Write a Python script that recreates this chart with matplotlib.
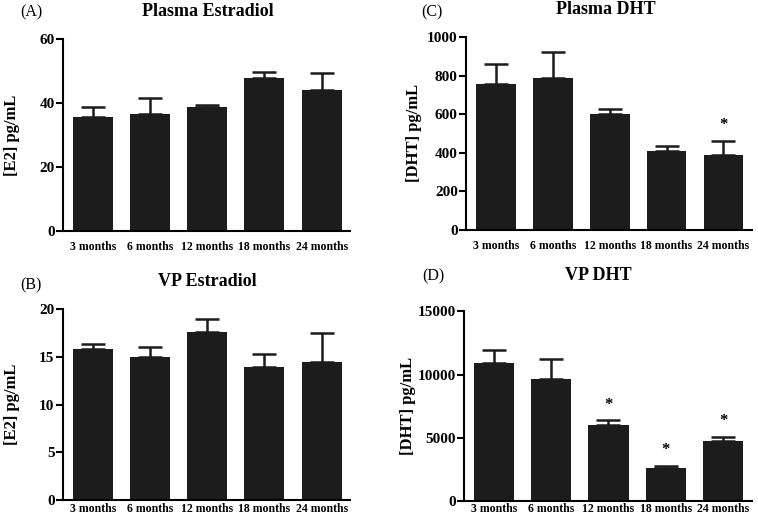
import numpy as np
import matplotlib.pyplot as plt

plt.rcParams['font.family'] = ['Liberation Serif', 'DejaVu Serif']

months = ['3 months', '6 months', '12 months', '18 months', '24 months']

# (A) Plasma Estradiol
e2_plasma = [35.7, 36.7, 38.7, 47.8, 44.2]
e2_plasma_err = [3.0, 5.0, 0.6, 1.8, 5.2]
# (B) VP Estradiol
e2_vp = [15.85, 14.95, 17.6, 13.95, 14.5]
e2_vp_err = [0.45, 1.1, 1.3, 1.35, 2.95]
# (C) Plasma DHT
dht_plasma = [758, 785, 600, 410, 389]
dht_plasma_err = [104, 135, 26, 26, 71]
dht_plasma_sig = [False, False, False, False, True]
# (D) VP DHT
dht_vp = [10900, 9680, 6000, 2570, 4740]
dht_vp_err = [1030, 1540, 370, 180, 320]
dht_vp_sig = [False, False, True, True, True]

W, H = 758, 520
fig = plt.figure(figsize=(W / 100, H / 100), dpi=100)

panels = [
    # rect, letter pos, title pos, xpad, ylabel offset px, letter, title, ylabel, values, errs, sig, ymax, yticks
    ([0.083, 0.556, 0.379, 0.369], (31, 12), (208, 12), 7, 51, '(A)', 'Plasma Estradiol', '[E2] pg/mL',
     e2_plasma, e2_plasma_err, None, 60, [0, 20, 40, 60]),
    ([0.083, 0.038, 0.379, 0.368], (31, 285), (207, 281), 2, 51, '(B)', 'VP Estradiol', '[E2] pg/mL',
     e2_vp, e2_vp_err, None, 20, [0, 5, 10, 15, 20]),
    ([0.615, 0.558, 0.377, 0.371], (432, 12), (606, 10), 7, 52, '(C)', 'Plasma DHT', '[DHT] pg/mL',
     dht_plasma, dht_plasma_err, dht_plasma_sig, 1000, [0, 200, 400, 600, 800, 1000]),
    ([0.612, 0.037, 0.380, 0.364], (433, 276), (598, 275), 1.5, 56, '(D)', 'VP DHT', '[DHT] pg/mL',
     dht_vp, dht_vp_err, dht_vp_sig, 15000, [0, 5000, 10000, 15000]),
]

for rect, lpos, tpos, xpad, yoff, letter, title, ylabel, vals, errs, sig, ymax, yticks in panels:
    ax = fig.add_axes(rect)
    x = np.arange(len(months))
    ax.bar(x, vals, width=0.7, color='#1c1c1c', zorder=2)
    ax.errorbar(x, vals, yerr=[np.zeros(len(vals)), errs], fmt='none',
                ecolor='#1c1c1c', elinewidth=1.8, capsize=8.5, capthick=1.8, zorder=1)
    if sig is not None:
        for i, s in enumerate(sig):
            if s:
                ax.text(x[i], vals[i] + errs[i] + ymax * 0.04, '*', ha='center',
                        va='bottom', fontsize=12, fontweight='bold')
    ax.set_xlim(-0.52, 4.5)
    ax.set_ylim(0, ymax)
    ax.set_yticks(yticks)
    ax.set_xticks(x)
    ax.set_xticklabels(months, fontsize=8.5, fontweight='bold')
    for lab in ax.get_yticklabels():
        lab.set_fontsize(11)
        lab.set_fontweight('bold')
    ax.tick_params(axis='x', length=0, pad=xpad)
    ax.tick_params(axis='y', length=5, width=1.5, direction='out', pad=1)
    for side in ['top', 'right']:
        ax.spines[side].set_visible(False)
    for side in ['left', 'bottom']:
        ax.spines[side].set_linewidth(1.5)
    ax.set_ylabel(ylabel, fontsize=12, fontweight='bold', va='center')
    ax.yaxis.set_label_coords(-yoff / (rect[2] * W), 0.5)
    fig.text(tpos[0] / W, 1 - tpos[1] / H, title, fontsize=13, fontweight='bold',
             ha='center', va='center')
    fig.text(lpos[0] / W, 1 - lpos[1] / H, letter, fontsize=11.5, ha='center', va='center')

fig.savefig('out.png', dpi=100)
